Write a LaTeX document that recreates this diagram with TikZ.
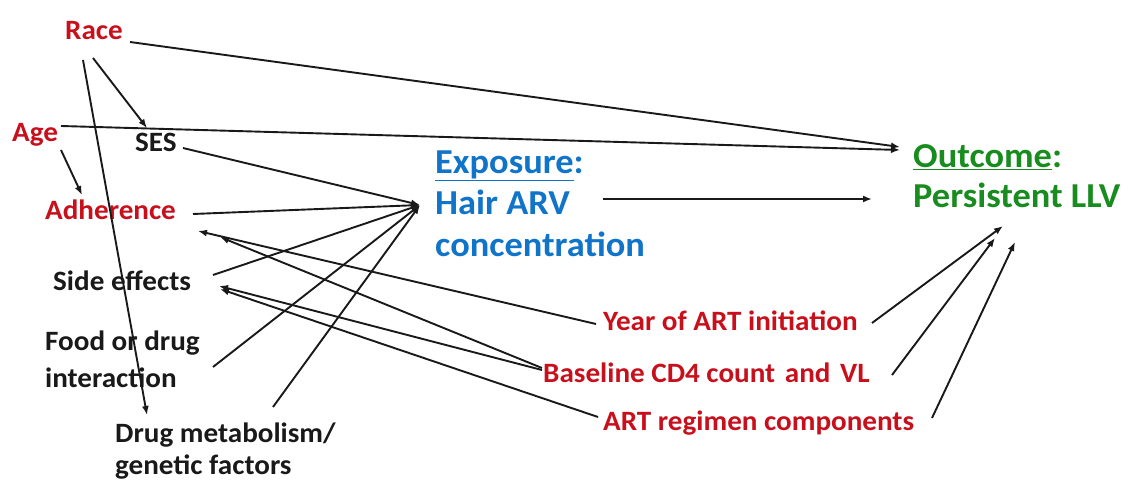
\documentclass[tikz,border=0pt]{standalone}
\usepackage{fontspec}
\setmainfont{Carlito}[FakeStretch=1.04]
\usetikzlibrary{arrows.meta}
\definecolor{lblred}{RGB}{200,16,28}
\definecolor{expblue}{RGB}{16,116,200}
\definecolor{outgreen}{RGB}{24,140,30}
\definecolor{ink}{RGB}{25,25,25}
\begin{document}
\begin{tikzpicture}[x=1pt,y=-1pt,
  lbl/.style={anchor=base west, inner sep=0pt, font=\fontsize{28}{32}\selectfont\bfseries, align=left},
  redlbl/.style={lbl, text=lblred},
  blklbl/.style={lbl, text=ink},
  biglbl/.style={anchor=base west, inner sep=0pt, align=left},
  conn/.style={draw=ink, line width=1.9pt, -{Latex[length=9pt,width=7pt]}}]
\useasboundingbox (0,0) rectangle (1130,481);

% labels (multi-line nodes are anchored at the baseline of their last line)
\node[redlbl] (race) at (65,40) {Race};
\node[redlbl] (age) at (12,142) {Age};
\node[blklbl] (ses) at (135,152) {SES};
\node[redlbl] (adh) at (45,220) {Adherence};
\node[blklbl] (side) at (53,290) {Side effects};
\node[blklbl, font=\fontsize{28}{37}\selectfont\bfseries] (food) at (45,387) {Food or drug\\interaction};
\node[blklbl, font=\fontsize{28}{32}\selectfont\bfseries] (drug) at (115,474) {Drug metabolism/\\genetic factors};
\node[biglbl, text=expblue, font=\fontsize{35}{42}\selectfont\bfseries] (expo) at (435,257) {\underline{Exposure}:\\Hair ARV\\concentration};
\node[biglbl, text=outgreen, font=\fontsize{35}{40}\selectfont\bfseries] (out) at (913,208) {\underline{Outcome}:\\Persistent LLV};
\node[redlbl] (year) at (603,330) {Year of ART initiation};
\node[redlbl] (base) at (543,382) {Baseline CD4 count\hspace{3pt} and\hspace{3pt} VL};
\node[redlbl] (art) at (603,430) {ART regimen components};

\coordinate (expin) at ([shift={(-15,-52)}]expo.base west);

% connectors
\draw[conn] ([shift={(65,2)}]race.base west) -- ([shift={(-13,-61)}]out.base west);
\draw[conn] ([shift={(49,-16)}]age.base west) -- ([shift={(-13,-58)}]out.base west);
\draw[conn] ([shift={(28,18)}]race.base west) -- ([shift={(12,-24)}]ses.base west);
\draw[conn] ([shift={(18,20)}]race.base west) -- ([shift={(32,-59)}]drug.base west);
\draw[conn] ([shift={(49,8)}]age.base west) -- ([shift={(37,-25)}]adh.base west);

\draw[conn] ([shift={(48,-4)}]ses.base west) -- (expin);
\draw[conn] ([shift={(148,-6)}]adh.base west) -- (expin);
\draw[conn] ([shift={(160,-15)}]side.base west) -- (expin);
\draw[conn] ([shift={(168,-20)}]food.base west) -- (expin);
\draw[conn] ([shift={(158,-67)}]drug.base west) -- (expin);

\draw[conn] ([shift={(168,-58)}]expo.base west) -- ([shift={(-41,-9)}]out.base west);

\draw[conn] ([shift={(-7,-6)}]year.base west) -- ([shift={(153,11)}]adh.base west);
\draw[conn] ([shift={(-1,-14)}]base.base west) -- ([shift={(175,17)}]adh.base west);
\draw[conn] ([shift={(-1,-12)}]base.base west) -- ([shift={(166,-4)}]side.base west);
\draw[conn] ([shift={(-5,-13)}]art.base west) -- ([shift={(167,-1)}]side.base west);

\draw[conn] ([shift={(269,-7)}]year.base west) -- ([shift={(90,18)}]out.base west);
\draw[conn] ([shift={(349,-7)}]base.base west) -- ([shift={(82,30)}]out.base west);
\draw[conn] ([shift={(329,-12)}]art.base west) -- ([shift={(102,34)}]out.base west);
\end{tikzpicture}
\end{document}
